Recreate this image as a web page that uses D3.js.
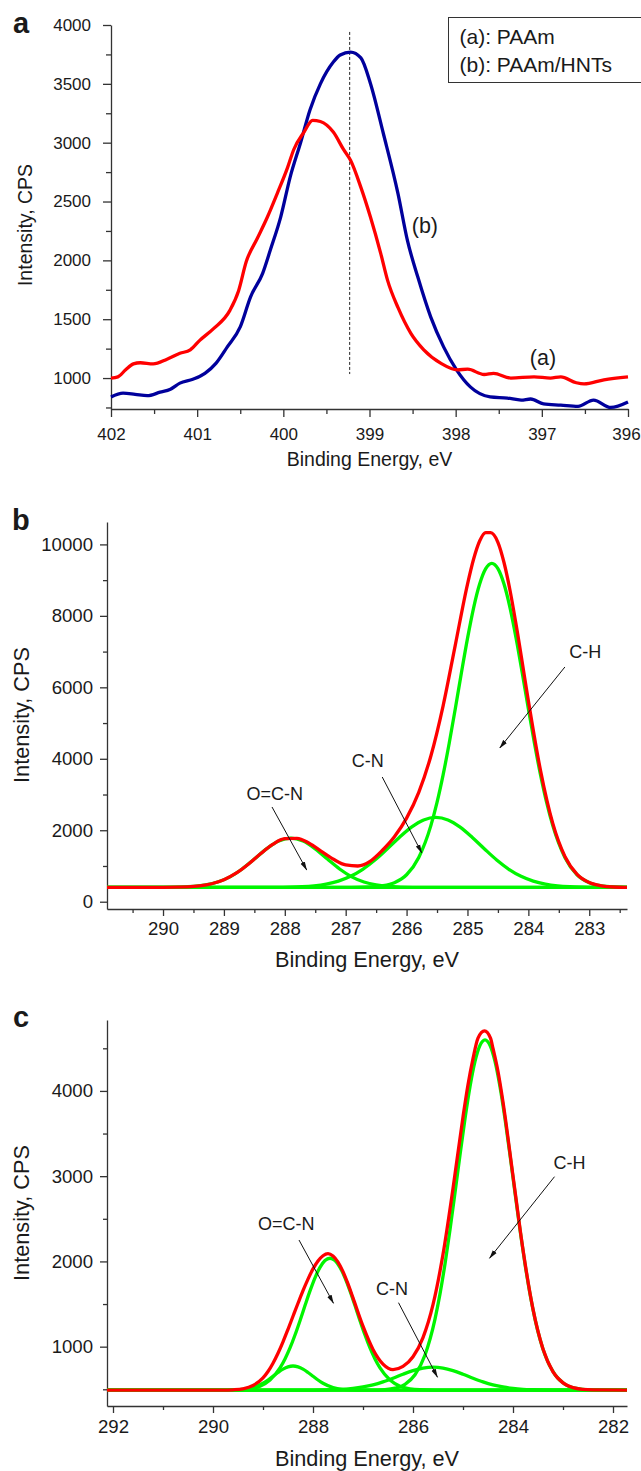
<!DOCTYPE html>
<html lang="en">
  <head>
    <meta charset="UTF-8" />
    <title>XPS spectra: PAAm and PAAm/HNTs</title>
    <script src="https://cdn.jsdelivr.net/npm/d3@7"></script>
    <style>
      body {
        margin: 0;
        background: #fff;
      }
      svg text {
        font-family: "Liberation Sans", Arial, Helvetica, sans-serif;
        fill: #1a1a1a;
      }
      .axis path,
      .axis line {
        stroke: #333;
        stroke-width: 1.3px;
      }
      .curve {
        fill: none;
        stroke-width: 3.3px;
        stroke-linejoin: round;
      }
      .arrow {
        stroke: #111;
        stroke-width: 1px;
      }
    </style>
  </head>
  <body>
    <script>
      // ---- panel a : N 1s, [binding energy eV, CPS]
      var paam = [
        [402.0, 1000], [401.92, 1010], [401.83, 1070], [401.74, 1120], [401.66, 1130],
        [401.51, 1120], [401.35, 1160], [401.2, 1210], [401.08, 1240], [400.97, 1320],
        [400.81, 1420], [400.62, 1575], [400.52, 1740], [400.43, 1990], [400.3, 2190],
        [400.19, 2360], [400.07, 2570], [399.95, 2790], [399.88, 2940], [399.76, 3090],
        [399.66, 3190], [399.57, 3180], [399.42, 3090], [399.3, 2940], [399.22, 2850],
        [399.1, 2620], [398.99, 2370], [398.87, 2060], [398.79, 1830], [398.67, 1600],
        [398.52, 1380], [398.37, 1240], [398.17, 1125], [397.98, 1070], [397.86, 1075],
        [397.67, 1030], [397.56, 1040], [397.36, 1000], [397.09, 1010], [396.9, 1000],
        [396.78, 1010], [396.6, 960], [396.51, 950], [396.28, 985], [396.0, 1010]
      ];
      var paamHnt = [
        [402.0, 839], [401.86, 872], [401.72, 862], [401.58, 850], [401.43, 880],
        [401.31, 905], [401.2, 957], [401.05, 990], [400.91, 1040], [400.78, 1127],
        [400.65, 1265], [400.5, 1435], [400.38, 1690], [400.24, 1890], [400.15, 2090],
        [400.03, 2370], [399.92, 2710], [399.8, 3000], [399.69, 3280], [399.57, 3500],
        [399.42, 3685], [399.34, 3745], [399.22, 3770], [399.1, 3720], [398.99, 3505],
        [398.84, 3080], [398.67, 2570], [398.56, 2170], [398.44, 1860], [398.29, 1520],
        [398.14, 1265], [397.99, 1070], [397.83, 925], [397.6, 840], [397.4, 830],
        [397.24, 813], [397.13, 822], [396.98, 780], [396.78, 770], [396.58, 760],
        [396.4, 813], [396.2, 750], [396.0, 796]
      ];
      var aXTicks = [402, 401, 400, 399, 398, 397, 396];
      var aXMinor = [401.5, 400.5, 399.5, 398.5, 397.5, 396.5];
      var aYTicks = [1000, 1500, 2000, 2500, 3000, 3500, 4000];
      var aYMinor = [750, 1250, 1750, 2250, 2750, 3250, 3750];
      var aLegend = ["(a): PAAm", "(b): PAAm/HNTs"];

      // ---- panel b : C 1s of PAAm, fitted components
      var bBaseline = [[290.92, 400], [282.38, 400]];
      var bOCN = [
        [290.92, 400], [290.1, 401], [289.7, 410], [289.5, 427], [289.3, 468], [289.1, 551],
        [288.9, 696], [288.7, 916], [288.5, 1193], [288.3, 1479], [288.1, 1697], [287.9, 1780],
        [287.7, 1697], [287.5, 1479], [287.3, 1193], [287.1, 916], [286.9, 696], [286.7, 551],
        [286.5, 468], [286.3, 427], [286.1, 410], [285.7, 401], [282.38, 400]
      ];
      var bCN = [
        [290.92, 400], [288.3, 402], [288.12, 403], [287.92, 409], [287.72, 421], [287.52, 446],
        [287.32, 494], [287.12, 578], [286.92, 712], [286.72, 908], [286.52, 1167], [286.32, 1476],
        [286.12, 1798], [285.92, 2087], [285.72, 2288], [285.52, 2360], [285.32, 2288], [285.12, 2087],
        [284.92, 1798], [284.72, 1476], [284.52, 1167], [284.32, 908], [284.12, 712], [283.92, 578],
        [283.72, 494], [283.52, 446], [283.32, 421], [283.12, 409], [282.92, 403], [282.38, 400]
      ];
      var bCH = [
        [290.92, 400], [286.9, 401], [286.6, 412], [286.4, 443], [286.2, 532], [286.0, 755],
        [285.8, 1240], [285.6, 2137], [285.5, 2778], [285.4, 3549], [285.3, 4435], [285.2, 5403],
        [285.1, 6400], [285.0, 7362], [284.9, 8218], [284.8, 8890], [284.7, 9321], [284.6, 9470],
        [284.5, 9321], [284.4, 8890], [284.3, 8218], [284.2, 7362], [284.1, 6400], [284.0, 5403],
        [283.9, 4435], [283.8, 3549], [283.7, 2778], [283.6, 2137], [283.4, 1240], [283.2, 755],
        [283.0, 532], [282.8, 443], [282.6, 412], [282.38, 403]
      ];
      var bEnvelope = [
        [290.92, 400], [290.0, 402], [289.6, 416], [289.4, 443], [289.2, 503], [289.0, 614],
        [288.8, 797], [288.6, 1049], [288.4, 1340], [288.2, 1604], [288.0, 1765], [287.8, 1774],
        [287.6, 1636], [287.4, 1410], [287.2, 1188], [287.0, 1030], [286.8, 1000], [286.6, 1130],
        [286.4, 1434], [286.2, 1818], [286.0, 2339], [285.8, 3062], [285.6, 4085], [285.4, 5483],
        [285.2, 7183], [285.0, 8883], [284.9, 9584], [284.8, 10095], [284.7, 10330], [284.62, 10330],
        [284.5, 10060], [284.4, 9494], [284.3, 8703], [284.2, 7744], [284.0, 5627], [283.8, 3671],
        [283.6, 2199], [283.4, 1269], [283.2, 768], [283.0, 537], [282.8, 445], [282.6, 412],
        [282.38, 403]
      ];
      var bXTicks = [290, 289, 288, 287, 286, 285, 284, 283];
      var bXMinor = [290.5, 289.5, 288.5, 287.5, 286.5, 285.5, 284.5, 283.5, 282.5];
      var bYTicks = [0, 2000, 4000, 6000, 8000, 10000];
      var bYMinor = [1000, 3000, 5000, 7000, 9000];

      // ---- panel c : C 1s of PAAm/HNTs, fitted components
      var cBaseline = [[292.12, 490], [281.72, 490]];
      var cOCN = [
        [292.12, 490], [290.0, 490], [289.76, 491], [289.46, 495], [289.26, 506], [289.06, 537],
        [288.86, 609], [288.66, 751], [288.56, 856], [288.46, 985], [288.36, 1137], [288.26, 1305],
        [288.16, 1482], [288.06, 1654], [287.96, 1808], [287.86, 1931], [287.76, 2010], [287.66, 2037],
        [287.56, 2010], [287.46, 1931], [287.36, 1808], [287.26, 1654], [287.16, 1482], [287.06, 1305],
        [286.96, 1137], [286.86, 985], [286.76, 856], [286.66, 751], [286.46, 609], [286.26, 537],
        [286.06, 506], [285.86, 495], [285.56, 491], [281.72, 490]
      ];
      var cSmall = [
        [292.12, 490], [289.8, 490], [289.6, 492], [289.4, 499], [289.2, 521], [289.0, 571],
        [288.9, 609], [288.8, 653], [288.7, 697], [288.6, 736], [288.5, 763], [288.4, 773],
        [288.3, 763], [288.2, 736], [288.1, 697], [288.0, 653], [287.9, 609], [287.8, 571],
        [287.6, 521], [287.4, 499], [287.2, 492], [287.0, 490], [281.72, 490]
      ];
      var cCN = [
        [292.12, 490], [288.4, 490], [288.0, 491], [287.6, 495], [287.4, 500], [287.2, 510],
        [287.0, 527], [286.8, 552], [286.6, 587], [286.4, 630], [286.2, 677], [286.0, 719],
        [285.8, 749], [285.6, 760], [285.4, 749], [285.2, 719], [285.0, 677], [284.8, 630],
        [284.6, 587], [284.4, 552], [284.2, 527], [284.0, 510], [283.8, 500], [283.6, 495],
        [283.2, 491], [282.8, 490], [281.72, 490]
      ];
      var cCH = [
        [292.12, 490], [286.86, 491], [286.56, 497], [286.36, 513], [286.16, 559], [285.96, 670],
        [285.76, 903], [285.56, 1324], [285.46, 1619], [285.36, 1971], [285.26, 2371], [285.16, 2805],
        [285.06, 3249], [284.96, 3674], [284.86, 4050], [284.76, 4346], [284.66, 4535], [284.56, 4600],
        [284.46, 4535], [284.36, 4346], [284.26, 4050], [284.16, 3674], [284.06, 3249], [283.96, 2805],
        [283.86, 2371], [283.76, 1971], [283.66, 1619], [283.56, 1324], [283.36, 903], [283.16, 670],
        [282.96, 559], [282.76, 513], [282.56, 497], [282.26, 491], [281.72, 490]
      ];
      var cEnvelope = [
        [292.12, 490], [289.8, 490], [289.6, 494], [289.4, 506], [289.2, 544], [289.0, 634],
        [288.9, 709], [288.8, 806], [288.7, 923], [288.6, 1057], [288.5, 1204], [288.4, 1357],
        [288.3, 1509], [288.2, 1657], [288.1, 1793], [288.0, 1912], [287.9, 2005], [287.8, 2067],
        [287.7, 2092], [287.6, 2063], [287.5, 1992], [287.4, 1881], [287.3, 1736], [287.2, 1572],
        [287.0, 1240], [286.8, 968], [286.6, 796], [286.4, 731], [286.2, 768], [286.0, 881],
        [285.8, 1106], [285.6, 1492], [285.4, 2083], [285.2, 2857], [285.0, 3695], [284.9, 4072],
        [284.8, 4379], [284.7, 4620], [284.57, 4705], [284.45, 4620], [284.4, 4498], [284.3, 4228],
        [284.2, 3870], [284.0, 3003], [283.8, 2136], [283.6, 1440], [283.4, 973], [283.2, 705],
        [283.0, 575], [282.8, 519], [282.6, 499], [282.4, 493], [281.72, 490]
      ];
      var cXTicks = [292, 290, 288, 286, 284, 282];
      var cXMinor = [291, 289, 287, 285, 283];
      var cYTicks = [1000, 2000, 3000, 4000];
      var cYMinor = [500, 1500, 2500, 3500, 4500];

      // annotations: [label, text x(eV), text y, arrow from eV, from y, to eV, to y]
      var bNotes = [
        ["O=C-N", 288.63, 2847, 288.21, 2651, 287.64, 887],
        ["C-N", 286.90, 3770, 286.40, 3490, 285.75, 1363],
        ["C-H", 283.33, 6821, 283.40, 6569, 284.47, 4302]
      ];
      var cNotes = [
        ["O=C-N", 289.10, 2369, 288.28, 2251, 287.59, 1509],
        ["C-N", 286.74, 1606, 286.29, 1516, 285.51, 641],
        ["C-H", 283.19, 3084, 283.17, 2994, 284.47, 2037]
      ];

      var RED = "#ff0000", GREEN = "#00f500", BLUE = "#00009c";
      var W = 641, H = 1471;

      var svg = d3.select("body").append("svg")
        .attr("width", W)
        .attr("height", H);

      svg.append("defs").append("marker")
        .attr("id", "head")
        .attr("markerUnits", "userSpaceOnUse")
        .attr("markerWidth", 9)
        .attr("markerHeight", 6)
        .attr("refX", 8.5)
        .attr("refY", 3)
        .attr("orient", "auto")
        .append("path")
        .attr("d", "M0,0.6L9,3L0,5.4Z")
        .attr("fill", "#111");

      function drawAxes(p) {
        var x = p.x, y = p.y;
        var y0 = y.range()[0], x0 = x.range()[0];

        var gx = svg.append("g")
          .attr("class", "axis")
          .attr("transform", "translate(0," + y0 + ")")
          .call(d3.axisBottom(x).tickValues(p.xTicks).tickSize(p.major).tickSizeOuter(0)
            .tickPadding(p.xPad).tickFormat(d3.format("d")));
        gx.attr("font-size", p.tickFont).attr("font-family", null);
        // keep the last label inside the page
        gx.selectAll(".tick text")
          .filter(function(d) { return d === p.xTicks[p.xTicks.length - 1]; })
          .attr("dx", p.lastDx || 0);

        svg.append("g")
          .attr("class", "axis")
          .attr("transform", "translate(0," + y0 + ")")
          .call(d3.axisBottom(x).tickValues(p.xMinor).tickSize(p.minor).tickSizeOuter(0).tickFormat(""))
          .select(".domain").remove();

        var gy = svg.append("g")
          .attr("class", "axis")
          .attr("transform", "translate(" + x0 + ",0)")
          .call(d3.axisLeft(y).tickValues(p.yTicks).tickSize(p.major).tickSizeOuter(0)
            .tickPadding(p.yPad).tickFormat(d3.format("d")));
        gy.attr("font-size", p.tickFont).attr("font-family", null);

        svg.append("g")
          .attr("class", "axis")
          .attr("transform", "translate(" + x0 + ",0)")
          .call(d3.axisLeft(y).tickValues(p.yMinor).tickSize(p.minor).tickSizeOuter(0).tickFormat(""))
          .select(".domain").remove();

        svg.append("text")
          .attr("x", d3.mean(x.range()))
          .attr("y", p.xTitleY)
          .attr("text-anchor", "middle")
          .attr("font-size", p.titleFont)
          .text("Binding Energy, eV");

        svg.append("text")
          .attr("transform", "translate(" + p.yTitleX + "," + p.yTitleMid + ") rotate(-90)")
          .attr("text-anchor", "middle")
          .attr("font-size", p.titleFont)
          .text("Intensity, CPS");

        svg.append("text")
          .attr("x", p.letterX)
          .attr("y", p.letterY)
          .attr("font-size", 29)
          .attr("font-weight", "bold")
          .text(p.letter);
      }

      function drawCurve(x, y, pts, colour) {
        var line = d3.line()
          .x(function(d) { return x(d[0]); })
          .y(function(d) { return y(d[1]); })
          .curve(d3.curveMonotoneX);
        svg.append("path")
          .datum(pts)
          .attr("class", "curve")
          .attr("stroke", colour)
          .attr("d", line);
      }

      function drawNotes(x, y, notes) {
        notes.forEach(function(n) {
          svg.append("text")
            .attr("x", x(n[1]))
            .attr("y", y(n[2]))
            .attr("font-size", 18)
            .text(n[0]);
          svg.append("line")
            .attr("class", "arrow")
            .attr("x1", x(n[3])).attr("y1", y(n[4]))
            .attr("x2", x(n[5])).attr("y2", y(n[6]))
            .attr("marker-end", "url(#head)");
        });
      }

      // ---------------- panel a
      var xA = d3.scaleLinear().domain([402, 396]).range([111, 628]);
      var yA = d3.scaleLinear().domain([737, 4000]).range([409, 25]);

      drawAxes({ x: xA, y: yA, xTicks: aXTicks, xMinor: aXMinor, yTicks: aYTicks, yMinor: aYMinor,
        major: 8, minor: 5, xPad: 11, yPad: 12, tickFont: 17, titleFont: 19.5, lastDx: -2,
        xTitleY: 466, yTitleX: 31.5, yTitleMid: 225, letter: "a", letterX: 13, letterY: 33 });

      svg.append("line")
        .attr("x1", xA(399.23)).attr("x2", xA(399.23))
        .attr("y1", yA(3941)).attr("y2", yA(1034))
        .attr("stroke", "#222")
        .attr("stroke-width", 1)
        .attr("stroke-dasharray", "3,2");

      drawCurve(xA, yA, paamHnt, BLUE);
      drawCurve(xA, yA, paam, RED);

      svg.append("text")
        .attr("x", xA(398.51)).attr("y", yA(2233))
        .attr("font-size", 21.5)
        .text("(b)");
      svg.append("text")
        .attr("x", xA(397.14)).attr("y", yA(1111))
        .attr("font-size", 21.5)
        .text("(a)");

      var legend = svg.append("g").attr("transform", "translate(448.5,17.5)");
      legend.append("rect")
        .attr("width", 210).attr("height", 65)
        .attr("fill", "#fff").attr("stroke", "#333").attr("stroke-width", 1);
      legend.selectAll("text")
        .data(aLegend)
        .enter()
        .append("text")
        .attr("x", 11)
        .attr("y", function(d, i) { return 26 + i * 28; })
        .attr("font-size", 21)
        .text(function(d) { return d; });

      // ---------------- panel b
      var xB = d3.scaleLinear().domain([290.92, 282.38]).range([107, 627]);
      var yB = d3.scaleLinear().domain([-204, 10627]).range([909, 522]);

      drawAxes({ x: xB, y: yB, xTicks: bXTicks, xMinor: bXMinor, yTicks: bYTicks, yMinor: bYMinor,
        major: 7, minor: 4, xPad: 6, yPad: 7, tickFont: 18.6, titleFont: 21.7,
        xTitleY: 967, yTitleX: 29.3, yTitleMid: 715, letter: "b", letterX: 12, letterY: 530 });

      [bBaseline, bOCN, bCN, bCH].forEach(function(s) { drawCurve(xB, yB, s, GREEN); });
      drawCurve(xB, yB, bEnvelope, RED);
      drawNotes(xB, yB, bNotes);

      // ---------------- panel c
      var xC = d3.scaleLinear().domain([292.12, 281.72]).range([107, 627]);
      var yC = d3.scaleLinear().domain([304, 4832]).range([1406, 1020]);

      drawAxes({ x: xC, y: yC, xTicks: cXTicks, xMinor: cXMinor, yTicks: cYTicks, yMinor: cYMinor,
        major: 7, minor: 4, xPad: 7, yPad: 7, tickFont: 18.6, titleFont: 21.7,
        xTitleY: 1466, yTitleX: 28.5, yTitleMid: 1213, letter: "c", letterX: 13, letterY: 1027 });

      [cBaseline, cSmall, cCN, cOCN, cCH].forEach(function(s) { drawCurve(xC, yC, s, GREEN); });
      drawCurve(xC, yC, cEnvelope, RED);
      drawNotes(xC, yC, cNotes);
    </script>
  </body>
</html>
